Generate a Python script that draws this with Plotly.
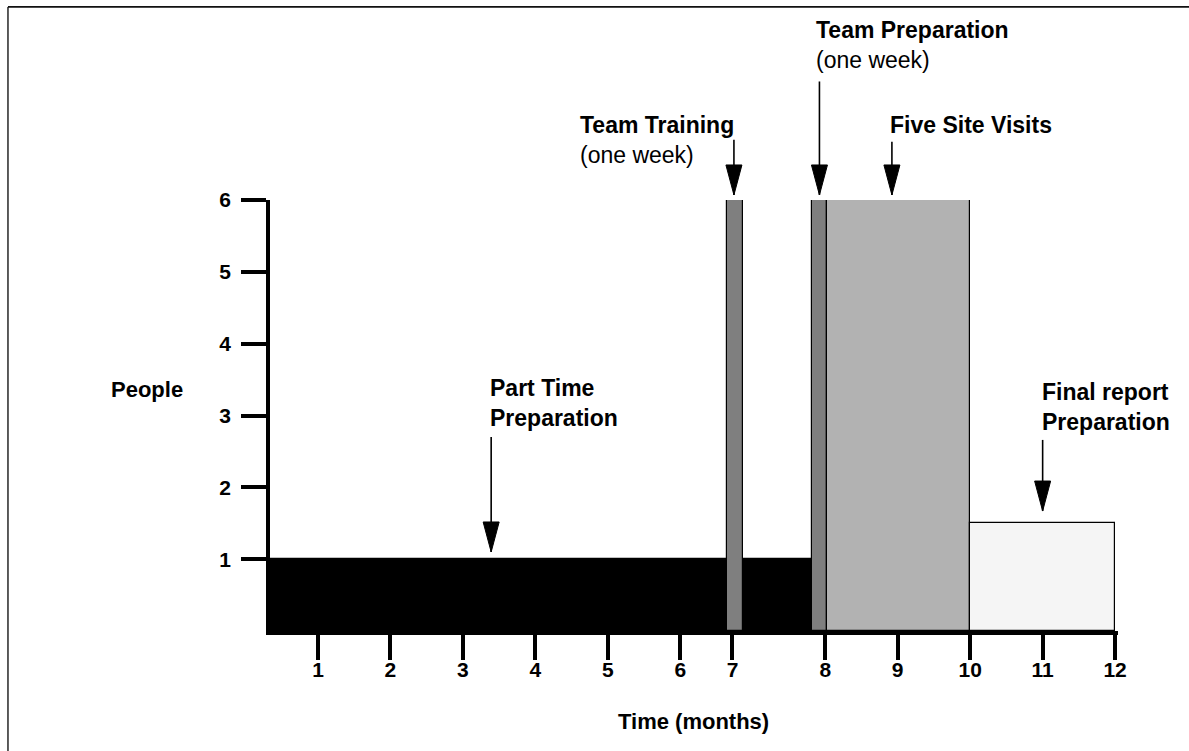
import plotly.graph_objects as go

# ---- data ----
activities = ["Part Time Preparation", "Team Training", "Team Preparation",
              "Five Site Visits", "Final report Preparation"]
start_month = [0.338, 6.65, 7.82, 8.03, 10.0]
end_month = [7.82, 6.87, 8.03, 10.0, 12.0]
people = [1, 6, 6, 6, 1.5]
bar_colors = ["#000000", "#7f7f7f", "#7f7f7f", "#b2b2b2", "#f5f5f5"]

x_tick_vals = [1, 2, 3, 4, 5, 6, 6.72, 8, 9, 10, 11, 12]
x_tick_text = ["1", "2", "3", "4", "5", "6", "7", "8", "9", "10", "11", "12"]
y_tick_vals = [1, 2, 3, 4, 5, 6]
y_tick_text = ["1", "2", "3", "4", "5", "6"]

# labels: text, left x (months), centre y (people)
label_text = ["<b>Part Time</b><br><b>Preparation</b>",
              "<b>Team Training</b><br>(one week)",
              "<b>Team Preparation</b><br>(one week)",
              "<b>Five Site Visits</b>",
              "<b>Final report</b><br><b>Preparation</b>"]
label_x = [3.35, 4.59, 7.84, 8.86, 10.96]
label_y = [3.17, 6.84, 8.16, 7.05, 3.12]

# arrows: x, tip y, tail y (people units)
arrow_x = [3.39, 6.74, 7.92, 8.92, 11.0]
arrow_tip = [1.10, 6.07, 6.07, 6.07, 1.67]
arrow_tail = [2.70, 6.84, 7.65, 6.81, 2.66]

X_RANGE = [0.338, 12.04]
Y_RANGE = [0, 6]
FONT = "Liberation Sans, Arial, sans-serif"


def to_paper_y(v):
    return (v - Y_RANGE[0]) / (Y_RANGE[1] - Y_RANGE[0])


centers = [(s + e) / 2 for s, e in zip(start_month, end_month)]
widths = [e - s for s, e in zip(start_month, end_month)]

fig = go.Figure()
fig.add_trace(go.Bar(
    x=centers, y=people, width=widths, base=0,
    marker=dict(color=bar_colors, line=dict(color="#000000", width=1.2)),
    text=activities, textposition="none", hoverinfo="text",
    showlegend=False,
))

annotations = []
for t, x, y in zip(label_text, label_x, label_y):
    annotations.append(dict(
        text=t, x=x, y=to_paper_y(y), xref="x", yref="paper",
        xanchor="left", yanchor="middle",
        align="left", showarrow=False, font=dict(family=FONT, size=23, color="#000")))
annotations.append(dict(
    text="<b>People</b>", x=-0.145, y=to_paper_y(3.36), xref="paper", yref="paper",
    xanchor="center", yanchor="middle", showarrow=False,
    font=dict(family=FONT, size=22, color="#000")))
annotations.append(dict(
    text="<b>Time (months)</b>", x=0.499, y=-0.211, xref="paper", yref="paper",
    xanchor="center", yanchor="middle", showarrow=False,
    font=dict(family=FONT, size=22, color="#000")))

shapes = []
head_len = 30
head_half = 8
for x, tip, tail in zip(arrow_x, arrow_tip, arrow_tail):
    ytip = to_paper_y(tip)
    ytail = to_paper_y(tail)
    shapes.append(dict(type="line", xref="x", yref="paper", x0=x, x1=x,
                       y0=ytail, y1=ytip, line=dict(color="#000", width=1.6),
                       layer="above"))
    shapes.append(dict(type="path", xref="x", yref="paper",
                       xsizemode="pixel", ysizemode="pixel",
                       xanchor=x, yanchor=ytip,
                       path=f"M{-head_half},{head_len} L{head_half},{head_len} L0,0 Z",
                       fillcolor="#000", line=dict(color="#000", width=1),
                       layer="above"))

# outer frame (left and top edges)
shapes.append(dict(type="line", xref="paper", yref="paper",
                   x0=-0.309, x1=-0.309, y0=-0.30, y1=1.448,
                   line=dict(color="#333", width=1.6)))
shapes.append(dict(type="line", xref="paper", yref="paper",
                   x0=-0.309, x1=1.10, y0=1.448, y1=1.448,
                   line=dict(color="#111", width=1.6)))

fig.update_layout(
    width=1189, height=751,
    margin=dict(l=270, r=71, t=200, b=120, pad=0),
    paper_bgcolor="white", plot_bgcolor="white",
    barmode="overlay", bargap=0,
    font=dict(family=FONT, color="#000"),
    annotations=annotations, shapes=shapes,
    xaxis=dict(range=X_RANGE, showgrid=False, zeroline=False,
               showline=True, linecolor="#000", linewidth=4,
               tickmode="array", tickvals=x_tick_vals, ticktext=x_tick_text,
               ticks="outside", ticklen=25, tickwidth=4, tickcolor="#000",
               tickfont=dict(family=FONT, size=21, weight="bold", color="#000"),
               ticklabelstandoff=-8),
    yaxis=dict(range=Y_RANGE, showgrid=False, zeroline=False,
               showline=True, linecolor="#000", linewidth=3.5,
               tickmode="array", tickvals=y_tick_vals, ticktext=y_tick_text,
               ticks="outside", ticklen=25, tickwidth=4, tickcolor="#000",
               tickfont=dict(family=FONT, size=21, weight="bold", color="#000"),
               ticklabelstandoff=6),
)

fig.write_html("out.html",
               config={"displayModeBar": False},
               post_script="document.body.style.margin='0';document.body.style.overflow='hidden';")
